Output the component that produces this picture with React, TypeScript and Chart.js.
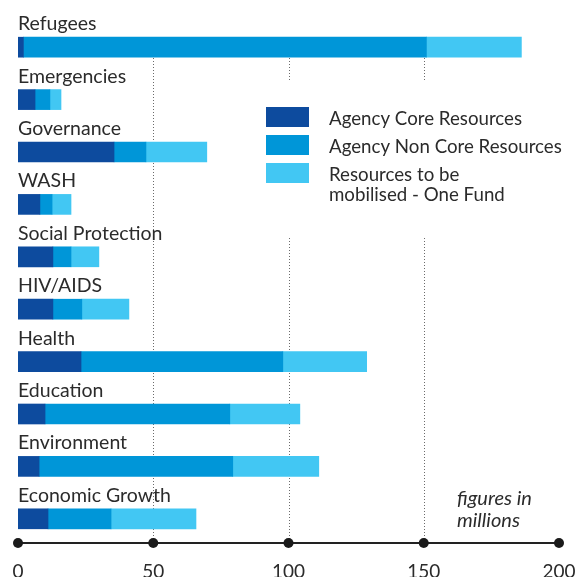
import React, { useEffect, useRef } from "react";
import { Chart, registerables } from "chart.js";

Chart.register(...registerables);

const CATEGORIES = [
  "Refugees",
  "Emergencies",
  "Governance",
  "WASH",
  "Social Protection",
  "HIV/AIDS",
  "Health",
  "Education",
  "Environment",
  "Economic Growth",
];
const CORE = [2, 6.3, 35.5, 8.1, 12.9, 12.9, 23.3, 10.0, 7.8, 11.1];
const NON_CORE = [149, 5.5, 11.8, 4.5, 6.7, 10.7, 74.6, 68.3, 71.6, 23.3];
const MOBILISE = [35.1, 4.1, 22.5, 7.0, 10.3, 17.4, 31.0, 25.9, 31.8, 31.4];
const SERIES_NAMES = [
  ["Agency Core Resources"],
  ["Agency Non Core Resources"],
  ["Resources to be", "mobilised - One Fund"],
];
const TICKS = [0, 50, 100, 150, 200];
const GRID_VALUES = [50, 100, 150];
const NOTE = ["figures in", "millions"];

const COLORS = ["#0d4b9e", "#0096d8", "#42c7f3"];
const FONT = "Lato, 'Noto Sans', sans-serif";
const TEXT = "#2b2b2b";

const decor = {
  id: "decor",
  beforeDatasetsDraw(chart: any) {
    const { ctx, chartArea, scales } = chart;
    const xs = scales.x;
    const axisY = chartArea.bottom - 2;
    ctx.save();
    ctx.strokeStyle = "#6b6b6b";
    ctx.lineWidth = 1;
    ctx.setLineDash([1, 2]);
    GRID_VALUES.forEach((v) => {
      const px = Math.round(xs.getPixelForValue(v)) + 0.5;
      ctx.beginPath();
      ctx.moveTo(px, chartArea.top + 16);
      ctx.lineTo(px, axisY);
      ctx.stroke();
    });
    ctx.setLineDash([]);
    // blank area behind the legend
    ctx.fillStyle = "#ffffff";
    ctx.fillRect(256, 80, 578 - 256, 158);
    ctx.restore();
  },
  afterDatasetsDraw(chart: any) {
    const { ctx, chartArea, scales } = chart;
    const xs = scales.x;
    const ys = scales.y;
    ctx.save();
    // category labels
    ctx.fillStyle = TEXT;
    ctx.font = `19.5px ${FONT}`;
    ctx.textAlign = "left";
    ctx.textBaseline = "alphabetic";
    CATEGORIES.forEach((c, i) => {
      const cy = ys.getPixelForValue(i);
      ctx.fillText(c, chartArea.left, cy - 17);
    });
    // axis
    const axisY = chartArea.bottom - 2;
    ctx.strokeStyle = "#222";
    ctx.lineWidth = 2;
    ctx.beginPath();
    ctx.moveTo(xs.getPixelForValue(TICKS[0]), axisY);
    ctx.lineTo(xs.getPixelForValue(TICKS[TICKS.length - 1]), axisY);
    ctx.stroke();
    ctx.fillStyle = "#1a1a1a";
    TICKS.forEach((t) => {
      ctx.beginPath();
      ctx.arc(xs.getPixelForValue(t), axisY, 5, 0, Math.PI * 2);
      ctx.fill();
    });
    ctx.fillStyle = TEXT;
    ctx.textAlign = "center";
    ctx.font = `19px ${FONT}`;
    TICKS.forEach((t) => {
      ctx.fillText(String(t), xs.getPixelForValue(t), axisY + 35);
    });
    // legend
    ctx.textAlign = "left";
    ctx.font = `18.7px ${FONT}`;
    SERIES_NAMES.forEach((lines, i) => {
      const top = 107 + i * 28;
      ctx.fillStyle = COLORS[i];
      ctx.fillRect(266, top, 43, 20);
      ctx.fillStyle = TEXT;
      lines.forEach((l, j) => {
        ctx.fillText(l, 329, top + 18 + j * 20);
      });
    });
    // note
    ctx.font = `italic 20px ${FONT}`;
    NOTE.forEach((l, j) => {
      ctx.fillText(l, 457, 505 + j * 22);
    });
    ctx.restore();
  },
};

export default function App() {
  const ref = useRef<HTMLCanvasElement | null>(null);
  useEffect(() => {
    if (!ref.current) return;
    const chart = new Chart(ref.current, {
      type: "bar",
      data: {
        labels: CATEGORIES,
        datasets: [
          { label: SERIES_NAMES[0].join(" "), data: CORE, backgroundColor: COLORS[0] },
          { label: SERIES_NAMES[1].join(" "), data: NON_CORE, backgroundColor: COLORS[1] },
          { label: SERIES_NAMES[2].join(" "), data: MOBILISE, backgroundColor: COLORS[2] },
        ].map((d) => ({ ...d, barThickness: 20, borderWidth: 0 })),
      },
      options: {
        indexAxis: "y",
        responsive: false,
        animation: false,
        layout: { padding: { left: 18, right: 19, top: 21, bottom: 32 } },
        scales: {
          x: { type: "linear", min: 0, max: 200, stacked: true, display: false },
          y: { stacked: true, display: false },
        },
        plugins: { legend: { display: false }, tooltip: { enabled: false } },
      },
      plugins: [decor],
    } as any);
    return () => chart.destroy();
  }, []);
  return (
    <div style={{ position: "fixed", left: 0, top: 0, width: 578, height: 577, background: "#fff" }}>
      <canvas ref={ref} width={578} height={577} />
    </div>
  );
}
